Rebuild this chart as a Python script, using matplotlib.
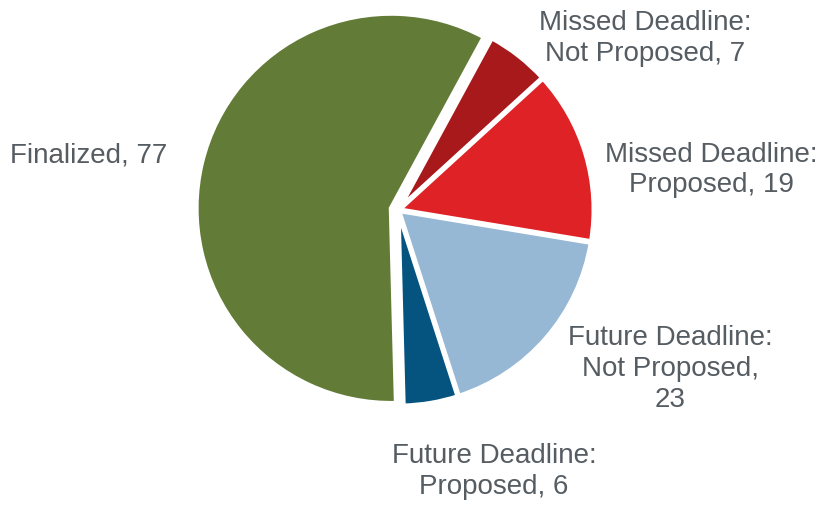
import matplotlib
matplotlib.use("Agg")
import matplotlib.pyplot as plt

# slices in clockwise order, starting at the bottom
labels = ["Finalized, 77",
          "Missed Deadline:\nNot Proposed, 7",
          "Missed Deadline:\nProposed, 19",
          "Future Deadline:\nNot Proposed,\n23",
          "Future Deadline:\nProposed, 6"]
values = [77, 7, 19, 23, 6]
colors = ["#627c37", "#a8191b", "#de2225", "#96b8d4", "#04547f"]

# label centres in pixels (x, y from top)
label_xy = [(89, 155), (645, 38), (711, 170), (670, 369), (494, 472)]

W, H = 822, 506
fig = plt.figure(figsize=(W / 100, H / 100), dpi=100)
ax = fig.add_axes([0, 0, 1, 1])

# explode is in data units here (pixels)
ax.pie(values, colors=colors, startangle=271.5, counterclock=False,
       center=(398, H - 211), radius=195,
       explode=[7, 1, 1, 1, 1],
       wedgeprops=dict(edgecolor="white", linewidth=3.5))

ax.set_xlim(0, W)
ax.set_ylim(0, H)
ax.set_aspect("auto")
ax.axis("off")

for lab, (x, y) in zip(labels, label_xy):
    ax.text(x, H - y, lab, ha="center", va="center", multialignment="center",
            fontsize=20, color="#555c62", family="Liberation Sans",
            linespacing=1.25)

fig.savefig("out.png", dpi=100)
